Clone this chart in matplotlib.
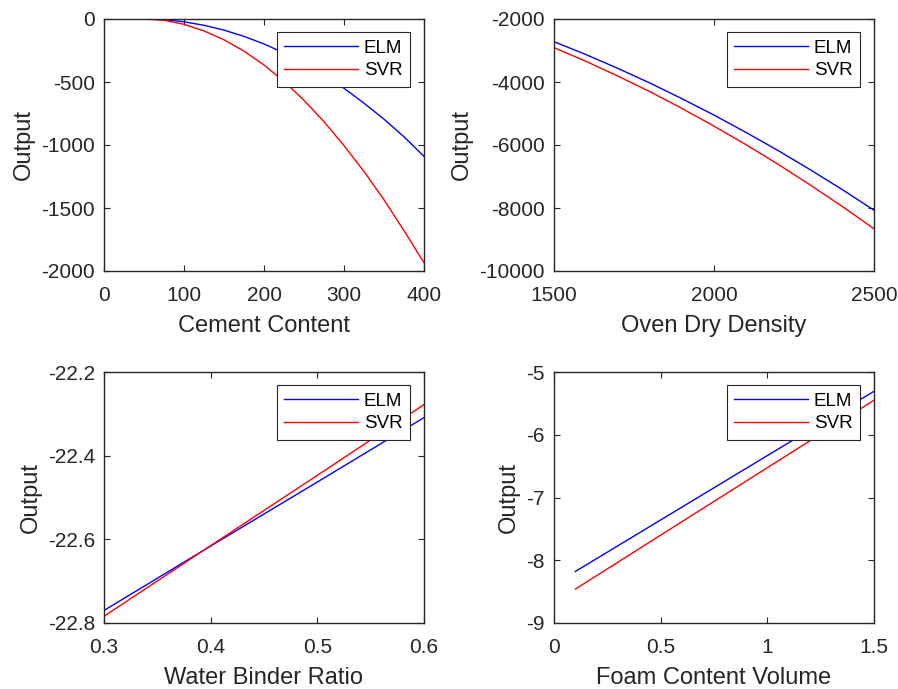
import numpy as np
import matplotlib
matplotlib.use("Agg")
import matplotlib.pyplot as plt

plt.rcParams['font.family'] = ['Liberation Sans', 'DejaVu Sans']
plt.rcParams['axes.unicode_minus'] = False

# cement content sweep
cement_x = [50, 75, 100, 125, 150, 175, 200, 225, 250, 275, 300, 325, 350, 375, 400]
cement_elm = [0, -5, -22, -50, -88, -138, -198, -270, -352, -446, -550, -668, -795, -935, -1090]
cement_svr = [0, -10, -42, -95, -165, -255, -365, -495, -645, -815, -1005, -1210, -1435, -1680, -1935]

# oven dry density sweep
density_x = [1500, 1600, 1700, 1800, 1900, 2000, 2100, 2200, 2300, 2400, 2500]
density_elm = [-2720, -3130, -3570, -4035, -4530, -5050, -5600, -6175, -6780, -7410, -8070]
density_svr = [-2910, -3345, -3815, -4310, -4840, -5400, -5990, -6610, -7265, -7945, -8660]

# water binder ratio sweep
wb_x = [0.3, 0.4, 0.5, 0.6]
wb_elm = [-22.770, -22.616, -22.463, -22.309]
wb_svr = [-22.784, -22.615, -22.447, -22.278]

# foam content volume sweep
foam_x = [0.1, 0.5, 1.0, 1.5]
foam_elm = [-8.179, -7.358, -6.332, -5.307]
foam_svr = [-8.460, -7.600, -6.525, -5.450]

panels = [
    (cement_x, cement_elm, cement_svr, 'Cement Content', (0, 400), [0, 100, 200, 300, 400],
     (-2000, 0), [-2000, -1500, -1000, -500, 0], None, None),
    (density_x, density_elm, density_svr, 'Oven Dry Density', (1500, 2500), [1500, 2000, 2500],
     (-10000, -2000), [-10000, -8000, -6000, -4000, -2000], None, None),
    (wb_x, wb_elm, wb_svr, 'Water Binder Ratio', (0.3, 0.6), [0.3, 0.4, 0.5, 0.6],
     (-22.8, -22.2), [-22.8, -22.6, -22.4, -22.2],
     ['0.3', '0.4', '0.5', '0.6'], ['-22.8', '-22.6', '-22.4', '-22.2']),
    (foam_x, foam_elm, foam_svr, 'Foam Content Volume', (0, 1.5), [0, 0.5, 1, 1.5],
     (-9, -5), [-9, -8, -7, -6, -5],
     ['0', '0.5', '1', '1.5'], ['-9', '-8', '-7', '-6', '-5']),
]

W, H = 898, 689
rects = [
    (104, 19, 424, 271),
    (554, 19, 874, 271),
    (104, 372, 424, 623),
    (554, 372, 874, 623),
]

fig = plt.figure(figsize=(W / 100, H / 100), dpi=100)
dark = '#262626'

for (x, elm, svr, xlabel, xlim, xticks, ylim, yticks, xtl, ytl), (l, t, r, b) in zip(panels, rects):
    ax = fig.add_axes([l / W, 1 - b / H, (r - l) / W, (b - t) / H])
    ax.plot(x, elm, color='#0000ff', lw=1.0, label='ELM')
    ax.plot(x, svr, color='#ff0000', lw=1.0, label='SVR')
    ax.set_xlim(*xlim)
    ax.set_ylim(*ylim)
    ax.set_xticks(xticks)
    ax.set_yticks(yticks)
    if xtl:
        ax.set_xticklabels(xtl)
    if ytl:
        ax.set_yticklabels(ytl)
    ax.tick_params(direction='in', length=4, width=0.8, top=True, right=True,
                   labelsize=15, colors=dark)
    ax.tick_params(axis='x', pad=11)
    ax.tick_params(axis='y', pad=6.5)
    for s in ax.spines.values():
        s.set_color(dark)
        s.set_linewidth(1.0)
    ax.set_xlabel(xlabel, fontsize=17, color=dark, labelpad=7)
    ax.set_ylabel('Output', fontsize=17, color=dark, labelpad=4.5)
    leg = ax.legend(loc='upper right', bbox_to_anchor=(1 - 14 / (r - l), 1 - 13 / (b - t)),
                    borderaxespad=0, fontsize=13.5, fancybox=False, framealpha=1,
                    edgecolor=dark, handlelength=3.95, handletextpad=0.3,
                    labelspacing=0.3, borderpad=0.4)
    leg.get_frame().set_linewidth(0.8)
    for txt in leg.get_texts():
        txt.set_color('black')

fig.savefig('out.png', dpi=100)
